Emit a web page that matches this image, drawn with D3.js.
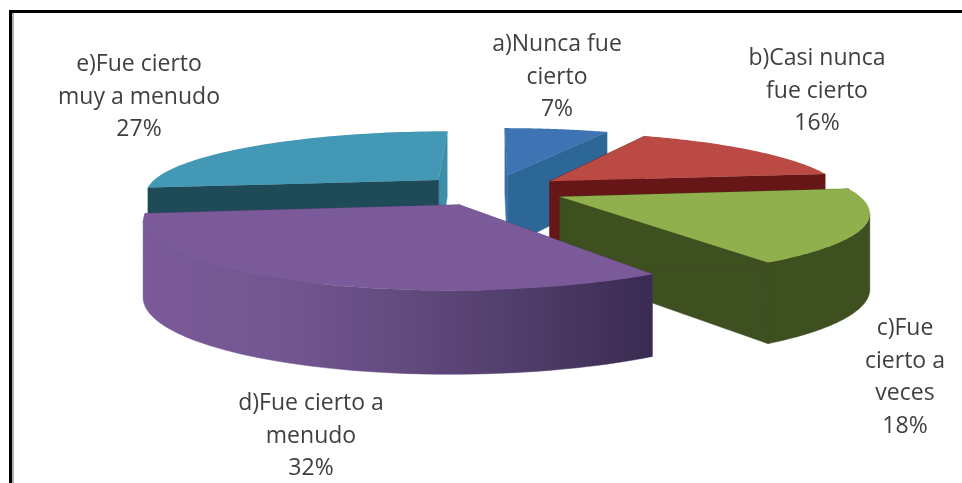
<!DOCTYPE html>
<html><head><meta charset="utf-8">
<script src="https://cdnjs.cloudflare.com/ajax/libs/d3/7.8.5/d3.min.js"></script>
<style>html,body{margin:0;padding:0;background:#fff;overflow:hidden}svg{display:block}text{font-family:"Open Sans",sans-serif;fill:#404040}</style>
</head><body><svg id="c" width="962" height="483"></svg>
<script>
const categories=["a)Nunca fue cierto","b)Casi nunca fue cierto","c)Fue cierto a veces","d)Fue cierto a menudo","e)Fue cierto muy a menudo"];
const values=[7,16,18,32,27];
const topColors=["#3f74b4","#bb4a45","#8fb04c","#7a5a98","#4399b5"];
const startWallColors=["#3a6ea8","#661616","#3e4f20","#5a4278","#1f4a58"];
const endWallColors=["#2c6798","#661616","#3e4f20","#5a4278","#3d8ea8"];
const labelLines=[["a)Nunca fue","cierto","7%"],["b)Casi nunca","fue cierto","16%"],["c)Fue","cierto a","veces","18%"],["d)Fue cierto a","menudo","32%"],["e)Fue cierto","muy a menudo","27%"]];
const labelPos=[[557,51],[817,65],[905,335],[311,410],[139,71]];
const drawOrder=[4,0,1,2,3];
const cx=492,cy=190,R=294,tilt=62,k=0.198,E=0.25,H=73,lineGap=32.5;

const svg=d3.select("#c");
const defs=svg.append("defs");
const grad=defs.append("linearGradient").attr("id","dRim").attr("gradientUnits","userSpaceOnUse").attr("x1",144).attr("x2",650).attr("y1",0).attr("y2",0);
[[0,"#7a5a98"],[0.3,"#72558f"],[0.7,"#54406f"],[1,"#3a2b52"]].forEach(s=>grad.append("stop").attr("offset",s[0]).attr("stop-color",s[1]));

const g=svg.append("g").style("filter","blur(0.7px)");
// frame: top and left rules only
g.append("path").attr("d","M13 483V13").attr("stroke","#999").attr("stroke-width",1.5);
g.append("path").attr("d","M10.5 483V11.5H962").attr("fill","none").attr("stroke","#000").attr("stroke-width",3);

const arcs=d3.pie().sort(null).value(d=>d).startAngle(0).endAngle(2*Math.PI)(values);
const line=d3.line();
function project(X,Y,z){const s=1/(1+k*Y);return [cx+R*X*s,cy-tilt*Y*s+z*H*Math.sqrt(s)];}
drawOrder.forEach(i=>{
  const a=arcs[i],m=(a.startAngle+a.endAngle)/2,ox=E*Math.sin(m),oy=E*Math.cos(m);
  const P=(t,r,z)=>project(ox+r*Math.sin(t),oy+r*Math.cos(t),z);
  const angs=d3.range(0,61).map(j=>a.startAngle+(a.endAngle-a.startAngle)*j/60);
  const wall=t=>[P(t,0,0),P(t,1,0),P(t,1,1),P(t,0,1)];
  const sl=g.append("g");
  [[a.endAngle,endWallColors[i]],[a.startAngle,startWallColors[i]]].forEach(([t,c])=>sl.append("path").attr("d",line(wall(t))+"Z").attr("fill",c).attr("stroke",c).attr("stroke-width",.5));
  const front=angs.filter((t,j)=>j<60&&P(angs[j+1],1,0)[0]<P(t,1,0)[0]);
  if(front.length){
    const f=[...front,front[front.length-1]+(angs[1]-angs[0])];
    const poly=[...f.map(t=>P(t,1,0)),...f.slice().reverse().map(t=>P(t,1,1))];
    const fr=i===3?"url(#dRim)":endWallColors[i];
    sl.append("path").attr("d",line(poly)+"Z").attr("fill",fr).attr("stroke",fr).attr("stroke-width",.5);
  }
  sl.append("path").attr("d",line([P(0,0,0),...angs.map(t=>P(t,1,0))])+"Z").attr("fill",topColors[i]);
});
labelLines.forEach((ls,i)=>{
  const t=g.append("text").attr("text-anchor","middle").attr("font-size",23);
  ls.forEach((s,j)=>t.append("tspan").attr("x",labelPos[i][0]).attr("y",labelPos[i][1]+j*lineGap).text(s));
});
</script></body></html>
